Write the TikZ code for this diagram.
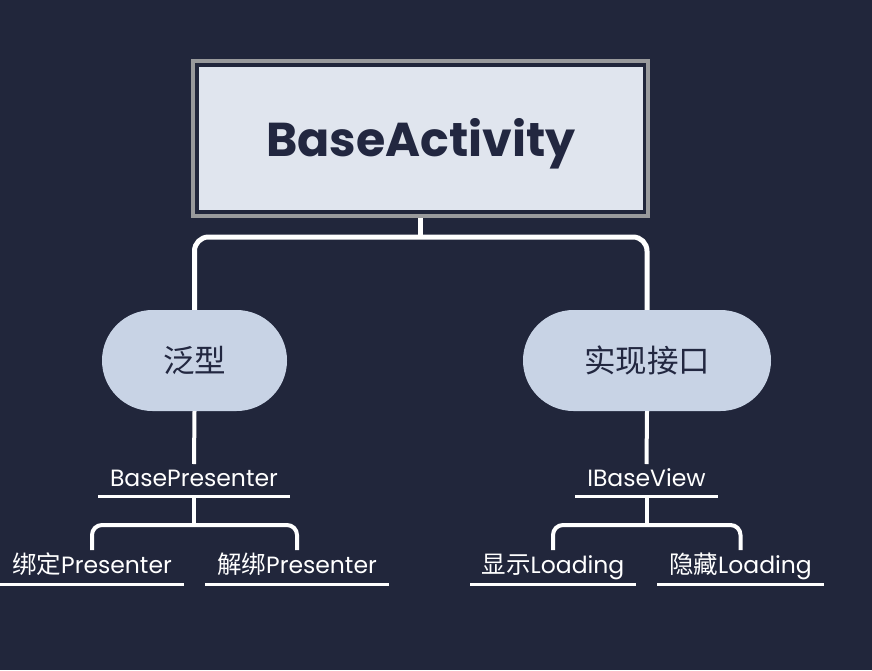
\documentclass[tikz,border=0pt]{standalone}
\usepackage{fontspec}
\setmainfont{Poppins}
\newfontfamily\cjk{Noto Sans CJK SC}
\usetikzlibrary{shapes.misc,calc}
\definecolor{bg}{HTML}{21263B}
\definecolor{boxfill}{HTML}{E0E5EE}
\definecolor{boxline}{HTML}{999A9C}
\definecolor{stadfill}{HTML}{C8D3E5}
\definecolor{ink}{HTML}{222740}
\tikzset{
  stad/.style={rounded rectangle, fill=stadfill, text=ink, minimum height=101pt, inner sep=0pt, font=\fontsize{31.5}{36}\selectfont\cjk},
  lbl/.style={inner sep=0pt, outer sep=0pt, text=white, minimum height=32pt, text height=17pt, text depth=4pt, font=\fontsize{23.5}{26}\selectfont},
  kid/.style={lbl, minimum height=34pt},
  conn/.style={draw=white, line width=5pt},
  conntwo/.style={draw=white, line width=4pt},
  uline/.style={draw=white, line width=3pt},
}
\newcommand{\zh}[1]{{\cjk\fontsize{24.5}{26}\selectfont #1}}
\begin{document}
\begin{tikzpicture}[x=1pt,y=-1pt]
\fill[bg] (0,0) rectangle (872,670);
\useasboundingbox (0,0) rectangle (872,670);
% root
\node[fill=boxfill, minimum width=444pt, minimum height=143pt, inner sep=0pt, text=ink, text height=36pt, text depth=0pt, font=\fontsize{47.5}{52}\selectfont\bfseries] (rootfill) at (421,138.5) {BaseActivity};
\node[draw=boxline, line width=4pt, minimum width=455pt, minimum height=155pt, inner sep=0pt] (root) at (420.5,138.5) {};
% level 1
\node[stad, minimum width=185pt] (fan) at (194.5,360.5) {泛型};
\node[stad, minimum width=248pt] (impl) at (647,360.5) {实现接口};
\draw[conn] (root.south) -- ++(0,19) coordinate (split);
\draw[conn, rounded corners=14pt] (fan.north) |- (split) -| (impl.north);
% level 2
\node[lbl, minimum width=192pt] (bp) at (194,480) {BasePresenter};
\node[lbl, minimum width=143pt] (ibv) at (646.5,480) {IBaseView};
\draw[uline] (bp.south west) -- (bp.south east);
\draw[uline] (ibv.south west) -- (ibv.south east);
\draw[conntwo] (fan.south) -- (bp.north);
\draw[conntwo] (impl.south) -- (ibv.north);
% level 3
\node[kid, minimum width=184pt] (bind) at (92,567) {\zh{绑定}Presenter};
\node[kid, minimum width=184pt] (unbind) at (297,567) {\zh{解绑}Presenter};
\node[kid, minimum width=166pt] (show) at (553,567) {\zh{显示}Loading};
\node[kid, minimum width=167pt] (hide) at (740.5,567) {\zh{隐藏}Loading};
\foreach \n in {bind,unbind,show,hide}{\draw[uline] (\n.south west) -- (\n.south east);}
\draw[conntwo] (bp.south) -- ++(0,29) coordinate (bpsplit);
\draw[conntwo, rounded corners=10pt] (bind.north) |- (bpsplit) -| (unbind.north);
\draw[conntwo] (ibv.south) -- ++(0,29) coordinate (ibvsplit);
\draw[conntwo, rounded corners=10pt] (show.north) |- (ibvsplit) -| (hide.north);
\end{tikzpicture}
\end{document}
